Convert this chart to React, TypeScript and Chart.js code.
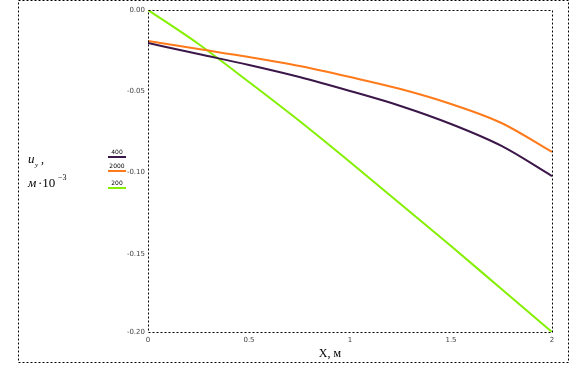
import React, { useEffect, useRef } from "react";
import { Chart, registerables } from "chart.js";

Chart.register(...registerables);

const xValues = [0, 0.25, 0.5, 0.75, 1, 1.25, 1.5, 1.75, 2];
const seriesA = [-0.0203, -0.0271, -0.0338, -0.0412, -0.0498, -0.059, -0.0701, -0.0836, -0.1021];
const seriesB = [-0.0191, -0.024, -0.0289, -0.0344, -0.0412, -0.0486, -0.0578, -0.0695, -0.0873];
const seriesC = [0, -0.0209, -0.0443, -0.0683, -0.0935, -0.1193, -0.1451, -0.1716, -0.198];
const seriesNames = ["400", "2000", "200"];
const seriesColors = ["#3b1648", "#ff7a1a", "#84f000"];
const xTicks = [0, 0.5, 1, 1.5, 2];
const xTickLabels = ["0", "0.5", "1", "1.5", "2"];
const yTicks = [0, -0.05, -0.1, -0.15, -0.198];
const yTickLabels = ["0.00", "-0.05", "-0.10", "-0.15", "-0.20"];

const framePlugin = {
  id: "framePlugin",
  afterDraw(chart: any) {
    const { ctx, chartArea } = chart;
    const { left, top, right, bottom } = chartArea;
    ctx.save();
    ctx.strokeStyle = "#000";
    ctx.lineWidth = 1;
    ctx.setLineDash([2, 2]);
    ctx.strokeRect(18.5, 0.5, 550, 362);
    ctx.strokeRect(left + 0.5, top + 0.5, right - left, bottom - top);
    ctx.setLineDash([]);
    const legY = [157, 171, 188];
    ctx.font = "6px 'DejaVu Sans'";
    ctx.textAlign = "center";
    ctx.textBaseline = "bottom";
    seriesNames.forEach((n, i) => {
      ctx.fillStyle = "#000";
      ctx.fillText(n, 117, legY[i] - 2);
      ctx.strokeStyle = seriesColors[i];
      ctx.lineWidth = 2;
      ctx.beginPath();
      ctx.moveTo(108, legY[i]);
      ctx.lineTo(126, legY[i]);
      ctx.stroke();
    });
    ctx.fillStyle = "#000";
    ctx.textAlign = "left";
    ctx.textBaseline = "alphabetic";
    ctx.font = "italic 13px 'Liberation Serif'";
    ctx.fillText("u", 28, 163);
    ctx.font = "italic 7px 'Liberation Serif'";
    ctx.fillText("y", 35, 167);
    ctx.font = "12px 'Liberation Serif'";
    ctx.fillText(",", 41, 163);
    ctx.font = "italic 13px 'Liberation Serif'";
    ctx.fillText("м", 28, 187);
    ctx.font = "13px 'Liberation Serif'";
    ctx.fillText("·10", 38, 187);
    ctx.font = "8px 'Liberation Serif'";
    ctx.fillText("−3", 58, 180);
    ctx.font = "12px 'Liberation Serif'";
    ctx.textAlign = "center";
    ctx.fillText("X, м", 330, 357);
    ctx.restore();
  },
};

export default function App() {
  const ref = useRef<HTMLCanvasElement>(null);
  useEffect(() => {
    if (!ref.current) return;
    const chart = new Chart(ref.current, {
      type: "line",
      data: {
        labels: xValues,
        datasets: [seriesA, seriesB, seriesC].map((d, i) => ({
          label: seriesNames[i],
          data: d.map((y, j) => ({ x: xValues[j], y })),
          borderColor: seriesColors[i],
          borderWidth: 2,
          pointRadius: 0,
          cubicInterpolationMode: "monotone" as const,
          fill: false,
        })),
      },
      options: {
        animation: false,
        responsive: false,
        maintainAspectRatio: false,
        layout: { padding: { left: 0, top: 10, right: 34, bottom: 0 } },
        plugins: { legend: { display: false }, tooltip: { enabled: false } },
        scales: {
          x: {
            type: "linear",
            min: 0,
            max: 2,
            grid: { display: false, drawTicks: false },
            border: { display: false },
            afterFit: (s: any) => {
              s.height = 49;
            },
            afterBuildTicks: (s: any) => {
              s.ticks = xTicks.map((v) => ({ value: v }));
            },
            ticks: {
              padding: 4,
              font: { size: 7, family: "DejaVu Sans" },
              color: "#444",
              maxRotation: 0,
              callback: (v: any) => {
                const i = xTicks.indexOf(Number(v));
                return i >= 0 ? xTickLabels[i] : "";
              },
            },
          },
          y: {
            type: "linear",
            min: -0.198,
            max: 0,
            grid: { display: false, drawTicks: false },
            border: { display: false },
            afterFit: (s: any) => {
              s.width = 148;
            },
            afterBuildTicks: (s: any) => {
              s.ticks = yTicks.map((v) => ({ value: v }));
            },
            ticks: {
              padding: 3,
              font: { size: 7, family: "DejaVu Sans" },
              color: "#444",
              callback: (v: any) => {
                const i = yTicks.indexOf(Number(v));
                return i >= 0 ? yTickLabels[i] : "";
              },
            },
          },
        },
      },
      plugins: [framePlugin],
    });
    return () => chart.destroy();
  }, []);
  return (
    <div style={{ position: "fixed", left: 0, top: 0, width: 586, height: 381, background: "#fff" }}>
      <canvas ref={ref} width={586} height={381} style={{ width: 586, height: 381 }} />
    </div>
  );
}
